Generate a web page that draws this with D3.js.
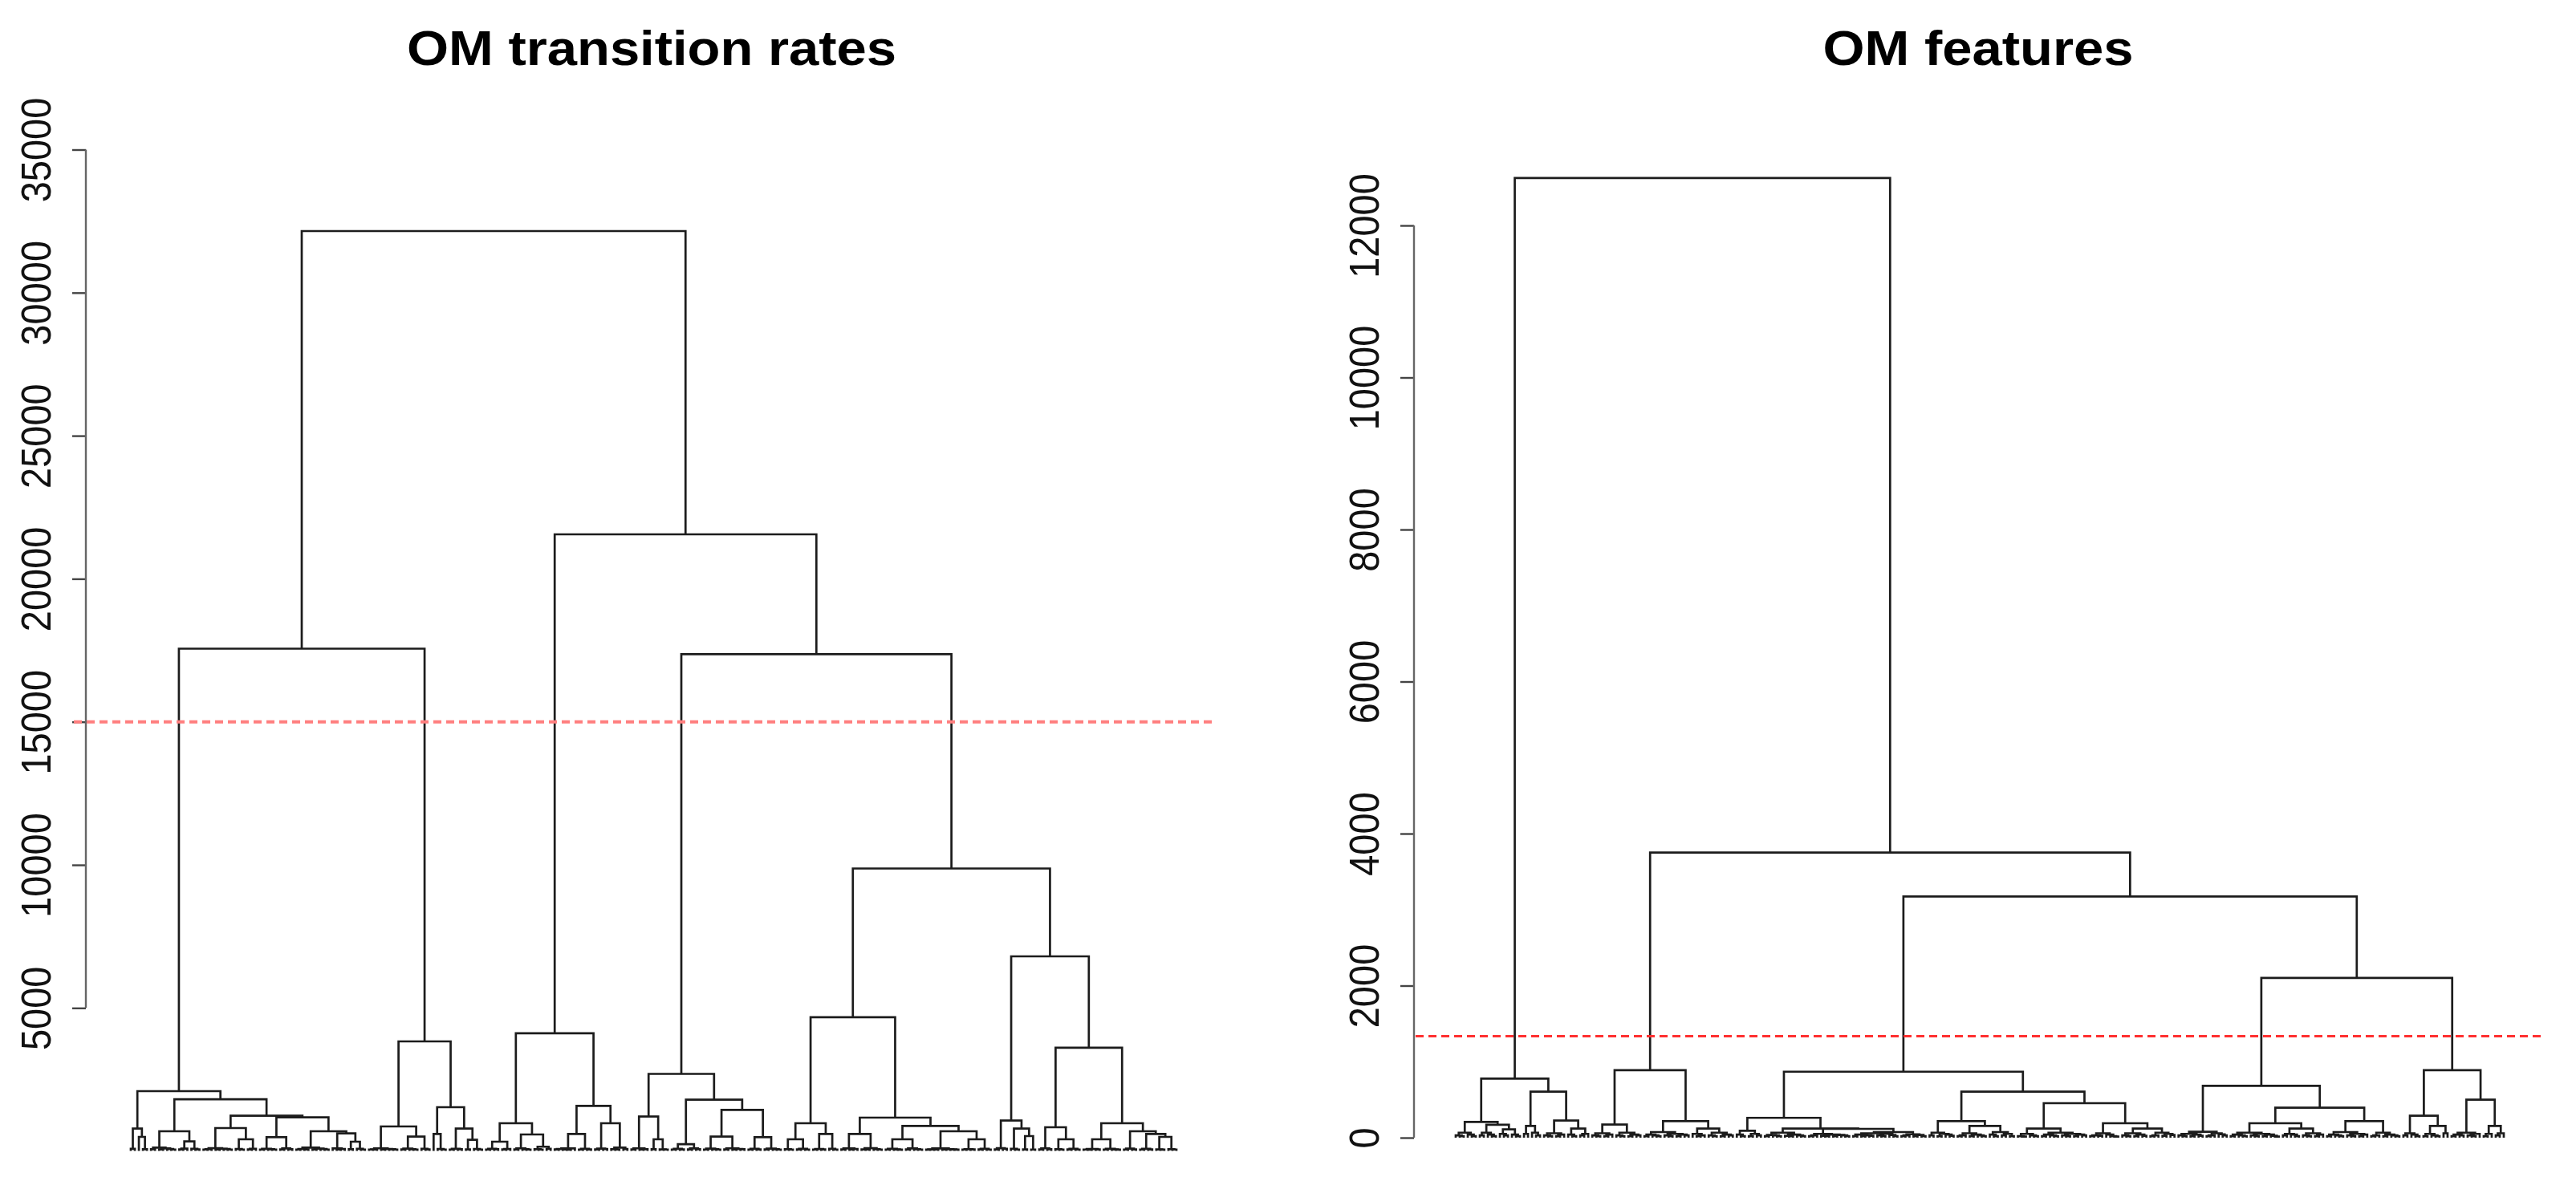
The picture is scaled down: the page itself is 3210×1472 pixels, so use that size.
<!DOCTYPE html>
<html>
<head>
<meta charset="utf-8">
<script src="https://d3js.org/d3.v7.min.js"></script>
<style>
  body { margin: 0; background: #fff; }
  svg { display: block; }
  text { font-family: "Liberation Sans", Arial, sans-serif; }
</style>
</head>
<body>
<script>
// dendrogram nodes: [merge height, left, right], a leaf is 0

// ---- OM transition rates ----
const LA1 = [783, [76,0,0], [493,0,[64,0,0]]];
const LA2a = [690, [120,[64,0,0],[88,[58,0,0],[70,0,[52,0,0]]]], [335,[82,[58,0,0],0],[76,0,[58,0,0]]]];
const LA2b1 = [802, [100,[64,[52,0,0],0],[76,[58,0,0],[70,0,[52,0,0]]]], [409,[70,0,[52,0,0]],[76,[58,0,0],0]]];
const LA2b2 = [1175,
  [485,[76,[52,0,0],[64,0,[52,0,0]]],[88,[58,0,0],[64,0,0]]],
  [690,[120,[70,[52,0,0],[58,0,0]],[82,[58,0,0],[70,0,[52,0,0]]]],[614,[88,0,[70,[58,0,0],0]],[325,[64,0,0],[76,0,[52,0,0]]]]]];
const LA = [2092, LA1, [1810, LA2a, [1231, LA2b1, LA2b2]]];

const LB = [3830,
  [858,[94,[58,[52,0,0],0],[70,[58,0,0],[64,0,[52,0,0]]]],[503,[82,[58,0,0],[64,0,[52,0,0]]],[76,0,[58,0,0]]]],
  [1531,[597,0,[70,0,[52,0,0]]],[783,[76,[52,0,0],[64,0,0]],[390,[58,0,0],[70,0,[52,0,0]]]]]];

const LC = [4114,
  [970,[325,[76,[52,0,0],[64,0,0]],[70,[58,0,0],0]],[578,[94,[58,0,0],[64,0,[52,0,0]]],[150,[64,0,[52,0,0]],[76,0,0]]]],
  [1578,[597,[88,[70,[58,0,0],[52,0,[46,0,0]]],0],[76,[52,0,0],[58,0,0]]],[970,[82,[58,0,0],[70,0,0]],[120,[64,0,[52,0,0]],[70,0,0]]]]];

const LD = [2695,
  [1204,[94,[58,0,0],[64,[52,0,0],0]],[409,[64,0,0],[58,0,[52,0,0]]]],
  [1792,[240,[76,[52,0,0],[58,0,0]],[88,[58,0,0],[64,0,0]]],
    [1438,[503,[82,[52,0,0],[64,0,[52,0,0]]],[94,[58,0,0],[70,[52,0,0],[64,0,0]]]],
          [485,[76,[52,0,0],[58,0,0]],[82,[58,0,0],[64,0,[52,0,0]]]]]]];

const LE1 = [970, [409,[64,0,[52,0,0]],[76,[58,0,0],[52,0,0]]], [597,[70,[52,0,0],[58,0,0]],[76,0,[52,0,0]]]];
const LE2 = [1166,
  [597,[88,[58,0,0],[70,[52,0,0],0]],[100,[58,0,[52,0,0]],[64,0,[52,0,0]]]],
  [878,[409,[76,[52,0,0],[58,0,[46,0,0]]],[88,[58,0,0],[64,0,[52,0,0]]]],
       [690,[88,[58,[46,0,0],[52,0,0]],[64,[52,0,0],[58,0,[46,0,0]]]],[409,[64,[52,0,0],[58,0,0]],[76,[58,0,0],[52,0,0]]]]]];
const LE = [4673, LE1, LE2];

const LF = [6803,
  [1063,[100,[58,0,0],[76,0,0]],[783,[76,0,[52,0,0]],[522,[58,0,0],[52,0,0]]]],
  [3612,
    [830,[94,[58,0,0],[64,0,0]],[409,[64,0,[52,0,0]],[76,[58,0,0],[52,0,0]]]],
    [970,[409,[70,[52,0,[46,0,0]],[58,0,0]],[76,[52,0,0],[58,0,[46,0,0]]]],
         [690,[82,[52,0,0],[58,0,0]],[597,[76,[52,0,0],[58,0,0]],[493,[58,0,[46,0,0]],[64,0,[52,0,0]]]]]]]];

const transitionTree = [32154, [17558, LA, LB], [21553, LC, [17365, LD, [9874, LE, LF]]]];

// ---- OM features ----
const R1 = [776,
  [208,[66,[30,0,[20,0,0]],[40,0,[20,0,0]]],[170,[66,[30,0,0],[40,0,[20,0,0]]],[110,[50,0,[30,0,0]],[40,0,[20,0,0]]]]],
  [605,[155,[50,0,0],[66,0,[30,0,0]]],[225,[58,[30,0,[20,0,0]],[40,[20,0,0],0]],[120,[40,0,[20,0,0]],[50,[30,0,0],0]]]]];

const R2a = [887,
  [172,[58,[30,0,[20,0,0]],[40,[20,0,0],0]],[66,[30,0,[20,0,0]],[40,[20,0,0],[30,0,0]]]],
  [218,[74,[40,[20,0,0],[30,0,[20,0,0]]],[50,[30,0,[20,0,0]],[40,[20,0,0],[30,0,0]]]],
       [120,[50,0,[30,[20,0,0],0]],[66,[30,0,[20,0,0]],[40,[20,0,0],[30,0,0]]]]]];

const R2b1L = [261,
  [92,[40,0,[20,0,0]],[50,[20,0,0],[30,0,0]]],
  [120,
    [66,[35,[20,0,0],[30,0,[20,0,0]]],[40,[25,0,[20,0,0]],[30,0,[20,0,0]]]],
    [116,
      [50,[30,[20,0,0],0],[40,[25,0,[20,0,0]],[35,[20,0,0],[30,0,[20,0,0]]]]],
      [74,[58,[40,[20,0,0],[30,[20,0,0],[25,0,0]]],[50,[30,0,[20,0,0]],[35,0,[20,0,0]]]],
          [45,[30,[20,0,0],0],[35,[20,0,0],[20,0,0]]]]]]];

const R2b1R = [605,
  [218,[66,[30,0,0],[50,[20,0,0],[40,0,[25,0,0]]]],
       [155,[58,[30,[20,0,0],0],[40,[20,0,0],[30,0,[20,0,0]]]],[74,[40,0,[20,0,0]],[50,[30,0,0],[20,0,0]]]]],
  [454,[120,[50,[20,0,[15,0,0]],[30,0,[20,0,0]]],[66,[40,[20,0,0],[30,0,[20,0,0]]],[50,[30,0,[20,0,0]],[40,[20,0,0],[30,0,0]]]]],
       [190,[58,[30,[20,0,0],[25,0,0]],[40,0,[20,0,[15,0,0]]]],
            [120,[58,[30,0,[20,0,0]],[40,[20,0,0],[25,0,0]]],[66,[30,[20,0,0],0],[50,[25,0,0],[35,0,0]]]]]]];

const R2b2a = [683,
  [78,[50,[30,0,[20,0,0]],[40,[20,0,0],[25,0,0]]],[58,[30,[20,0,0],0],[45,0,[30,0,0]]]],
  [394,
    [190,[66,[40,[20,0,0],[30,0,[20,0,0]]],[50,[30,0,[20,0,0]],[40,[20,0,0],[25,0,[15,0,0]]]]],
         [120,[50,[30,0,0],[40,0,[20,0,0]]],[58,[30,0,[20,0,0]],[40,[20,0,0],0]]]],
    [218,[74,[40,[20,0,0],[30,0,[20,0,0]]],[50,[30,0,[20,0,0]],[40,[20,0,0],0]]],
         [66,[30,[20,0,0],0],[40,[20,0,0],[30,0,[20,0,0]]]]]]];

const R2b2b = [887,
  [288,[58,[30,0,0],[40,0,[20,0,0]]],[155,[50,[20,0,0],[30,0,[20,0,0]]],[58,0,0]]],
  [499,[66,[40,[20,0,0],[30,0,0]],[50,[30,0,[20,0,0]],0]],[155,[50,[20,0,0],0],[58,[30,0,0],0]]]];

const featuresTree = [12623, R1, [3750, R2a, [3172, [868, R2b1L, R2b1R], [2102, R2b2a, R2b2b]]]];

const transitionTicks = [5000, 10000, 15000, 20000, 25000, 30000, 35000];
const featuresTicks = [0, 2000, 4000, 6000, 8000, 10000, 12000];
const transitionCut = 15000;
const featuresCut = 1335;

var svg = d3.select("body").append("svg")
    .attr("width", 3210)
    .attr("height", 1472);

svg.append("rect").attr("width", 3210).attr("height", 1472).attr("fill", "#fff");

function height(d) { return Array.isArray(d.data) ? d.data[0] : 0; }

function drawPanel(p) {
    var root = d3.hierarchy(p.tree, function (d) { return Array.isArray(d) ? [d[1], d[2]] : null; });
    d3.cluster().size([1, 1]).separation(function () { return 1; })(root);

    var x = d3.scaleLinear()
        .domain(d3.extent(root.leaves(), function (d) { return d.x; }))
        .range(p.xRange);
    var y = d3.scaleLinear()
        .domain([0, p.yMax])
        .range(p.yRange);

    var g = svg.append("g");

    // branches
    g.selectAll("path.branch")
        .data(root.descendants().filter(function (d) { return d.children; }))
        .join("path")
        .attr("class", "branch")
        .attr("fill", "none")
        .attr("stroke", "#1c1c1c")
        .attr("stroke-width", 2.7)
        .attr("d", function (d) {
            var a = d.children[0], b = d.children[1];
            return "M" + x(a.x) + "," + y(height(a)) +
                "V" + y(height(d)) +
                "H" + x(b.x) +
                "V" + y(height(b));
        });

    // axis
    var axis = g.append("g")
        .attr("transform", "translate(" + p.axisX + ",0)")
        .call(d3.axisLeft(y).tickValues(p.ticks).tickSize(17).tickFormat(d3.format("d")));
    axis.select(".domain").remove();
    axis.selectAll(".tick line").attr("stroke", "#444").attr("stroke-width", 2.4);
    axis.selectAll(".tick text")
        .attr("x", null).attr("dy", null)
        .attr("fill", "#111")
        .attr("font-size", 47)
        .attr("text-anchor", "middle")
        .attr("transform", "translate(-44,0) scale(1.1,1) rotate(-90)");
    axis.append("line")
        .attr("y1", y(d3.min(p.ticks)))
        .attr("y2", y(d3.max(p.ticks)))
        .attr("stroke", "#666")
        .attr("stroke-width", 2.4);

    // cut line
    g.append("line")
        .attr("x1", p.cutX[0]).attr("x2", p.cutX[1])
        .attr("y1", y(p.cut)).attr("y2", y(p.cut))
        .attr("stroke", p.cutColor)
        .attr("stroke-width", p.cutWidth)
        .attr("stroke-dasharray", "10,6");

    // title
    g.append("text")
        .text(p.title)
        .attr("font-size", 62)
        .attr("font-weight", "bold")
        .attr("text-anchor", "middle")
        .attr("transform", "translate(" + p.titleX + ",81) scale(1.08,1)");
}

drawPanel({
    title: "OM transition rates",
    tree: transitionTree,
    ticks: transitionTicks,
    cut: transitionCut,
    yMax: 35000,
    xRange: [163, 1466],
    yRange: [1434.6, 186.5],
    axisX: 107,
    cutX: [92, 1510],
    cutColor: "#ff7f7f",
    cutWidth: 4,
    titleX: 812
});

drawPanel({
    title: "OM features",
    tree: featuresTree,
    ticks: featuresTicks,
    cut: featuresCut,
    yMax: 12000,
    xRange: [1814, 3120],
    yRange: [1418, 281],
    axisX: 1762,
    cutX: [1764, 3166],
    cutColor: "#ff3030",
    cutWidth: 3,
    titleX: 2465
});
</script>
</body>
</html>
